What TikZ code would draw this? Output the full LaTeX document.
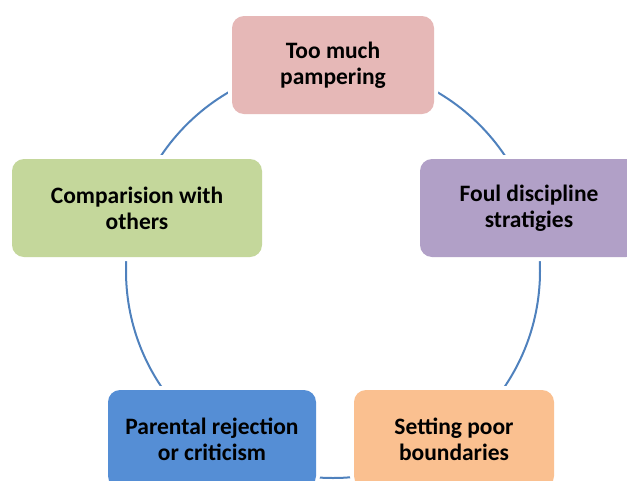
\documentclass[tikz,border=0pt]{standalone}
\usepackage{fontspec}
\setmainfont{Carlito}
\definecolor{ringblue}{HTML}{4F81BD}
\definecolor{cpink}{HTML}{E6B8B7}
\definecolor{cgreen}{HTML}{C4D79B}
\definecolor{cpurple}{HTML}{B1A0C7}
\definecolor{cblue}{HTML}{558ED5}
\definecolor{corange}{HTML}{FAC090}
\tikzset{
  cyclebox/.style={rounded corners=12pt, minimum height=98pt, inner sep=0pt,
    align=center, font=\fontsize{23.5}{26}\selectfont\bfseries,
    preaction={draw=white, line width=8pt}},
  ring/.style={draw=ringblue, line width=2pt}
}
\begin{document}
\begin{tikzpicture}[x=1pt,y=-1pt]
\useasboundingbox (0,0) rectangle (627,480);
\clip (0,0) rectangle (627,480);
\coordinate (c) at (333,271);
\draw[ring] (c) circle (207pt);
\node[cyclebox, fill=cpink, minimum width=202pt] (pamp) at (333,65) {Too much\\pampering};
\node[cyclebox, fill=cpurple, minimum width=218pt] (foul) at (529,208) {Foul discipline\\stratigies};
\node[cyclebox, fill=corange, minimum width=200pt] (bound) at (454,439) {Setting poor\\boundaries};
\node[cyclebox, fill=cblue, minimum width=208pt] (rej) at (212,439) {Parental rejection\\or criticism};
\node[cyclebox, fill=cgreen, minimum width=250pt] (comp) at (137,208) {Comparision with\\others};
\end{tikzpicture}
\end{document}
